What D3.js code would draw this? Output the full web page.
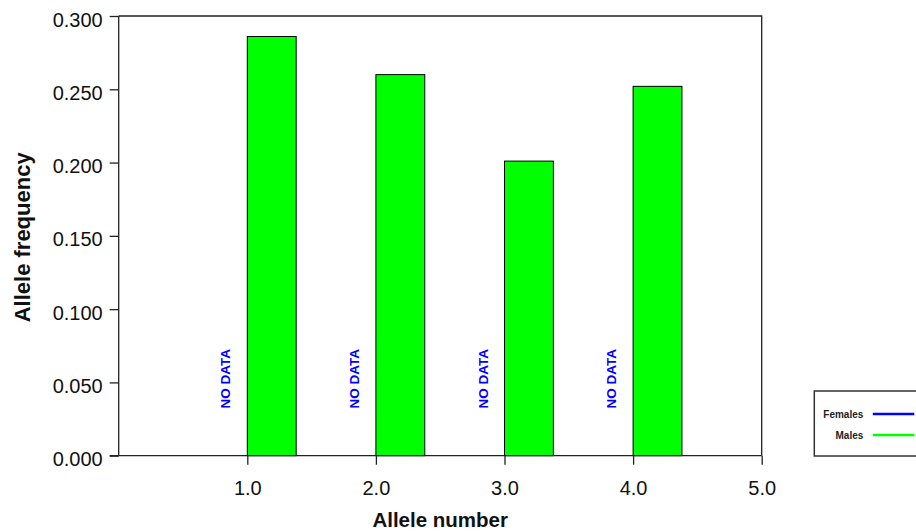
<!DOCTYPE html>
<html>
<head>
<meta charset="utf-8">
<script src="https://cdn.jsdelivr.net/npm/d3@7"></script>
<style>
  html, body { margin: 0; padding: 0; background: #fff; }
  svg { display: block; font-family: Arial, "Liberation Sans", sans-serif; }
</style>
</head>
<body>
<svg id="chart" width="916" height="532"></svg>
<script>
// ---- data ----
const categories = [1, 2, 3, 4];
const femalesValues = [null, null, null, null];   // NO DATA
const malesValues = [0.286, 0.260, 0.201, 0.252];
const xTickValues = [1, 2, 3, 4, 5];
const xTickLabels = ["1.0", "2.0", "3.0", "4.0", "5.0"];
const yTickValues = [0, 0.05, 0.10, 0.15, 0.20, 0.25, 0.30];
const yTickLabels = ["0.000", "0.050", "0.100", "0.150", "0.200", "0.250", "0.300"];
const seriesNames = ["Females", "Males"];
const seriesColors = ["#0000ff", "#00ff00"];

// ---- layout ----
const svg = d3.select("#chart");
const plot = { left: 118.7, right: 761.7, top: 16, bottom: 455.7 };
const x = d3.scaleLinear().domain([0, 5]).range([plot.left, plot.right]);
const y = d3.scaleLinear().domain([0, 0.3]).range([plot.bottom, plot.top]);
const barW = 0.38; // in x units
const axisColor = "#222";

// frame (top and right)
svg.append("path")
  .attr("d", `M${x(0)},${y(0.3)}H${x(5)}V${y(0)}`)
  .attr("fill", "none").attr("stroke", axisColor).attr("stroke-width", 1.3);

// bars (Males)
svg.append("g").selectAll("rect")
  .data(categories.map((c, i) => ({ c, v: malesValues[i] })))
  .join("rect")
  .attr("x", d => x(d.c))
  .attr("width", d => x(d.c + barW) - x(d.c))
  .attr("y", d => y(d.v))
  .attr("height", d => y(0) - y(d.v))
  .attr("fill", seriesColors[1])
  .attr("stroke", "#000").attr("stroke-width", 1);

// NO DATA labels for Females
svg.append("g").selectAll("text")
  .data(categories.filter((c, i) => femalesValues[i] == null))
  .join("text")
  .attr("transform", d => `translate(${x(d) - 17},${y(0) - 77}) rotate(-90)`)
  .attr("text-anchor", "middle")
  .attr("font-size", 13.5).attr("font-weight", "bold")
  .attr("fill", "#0000ff")
  .text("NO DATA");

// y axis
const yAxis = d3.axisLeft(y).tickValues(yTickValues)
  .tickFormat((d, i) => yTickLabels[i]).tickSize(9).tickPadding(7);
const gy = svg.append("g").attr("transform", `translate(${x(0)},0)`).call(yAxis);
gy.select(".domain").attr("stroke", axisColor).attr("stroke-width", 1.3).attr("d", `M0,${y(0.3)}V${y(0)}`);
gy.selectAll(".tick line").attr("stroke", axisColor).attr("stroke-width", 1.3);
gy.selectAll(".tick text").attr("font-size", 20).attr("fill", "#111")
  .attr("font-family", "Arial, 'Liberation Sans', sans-serif").attr("dy", "0.5em");

// x axis
const xAxis = d3.axisBottom(x).tickValues(xTickValues)
  .tickFormat((d, i) => xTickLabels[i]).tickSize(9).tickPadding(16);
const gx = svg.append("g").attr("transform", `translate(0,${y(0)})`).call(xAxis);
gx.select(".domain").attr("stroke", axisColor).attr("stroke-width", 1.3).attr("d", `M${x(0) - 9},0H${x(5)}`);
gx.selectAll(".tick line").attr("stroke", axisColor).attr("stroke-width", 1.3);
gx.selectAll(".tick text").attr("font-size", 20).attr("fill", "#111")
  .attr("font-family", "Arial, 'Liberation Sans', sans-serif");

// axis titles
svg.append("text")
  .attr("x", (plot.left + plot.right) / 2).attr("y", 527)
  .attr("text-anchor", "middle").attr("font-size", 20.5).attr("font-weight", "bold").attr("fill", "#111")
  .text("Allele number");
svg.append("text")
  .attr("transform", `translate(30,${(plot.top + plot.bottom) / 2 + 1.5}) rotate(-90)`)
  .attr("text-anchor", "middle").attr("font-size", 22).attr("font-weight", "bold").attr("fill", "#111")
  .text("Allele frequency");

// legend
const lg = svg.append("g").attr("transform", "translate(814.3,391)");
lg.append("rect").attr("x", 0).attr("y", 0).attr("width", 130).attr("height", 65)
  .attr("fill", "#fff").attr("stroke", "#333").attr("stroke-width", 1.5);
seriesNames.forEach((name, i) => {
  const cy = 23 + i * 21;
  lg.append("text").attr("x", 49).attr("y", cy + 3.5)
    .attr("text-anchor", "end").attr("font-size", 10).attr("font-weight", "bold").attr("fill", "#222")
    .text(name);
  lg.append("line").attr("x1", 58.5).attr("x2", 100).attr("y1", cy).attr("y2", cy)
    .attr("stroke", seriesColors[i]).attr("stroke-width", 2.5);
});
</script>
</body>
</html>
